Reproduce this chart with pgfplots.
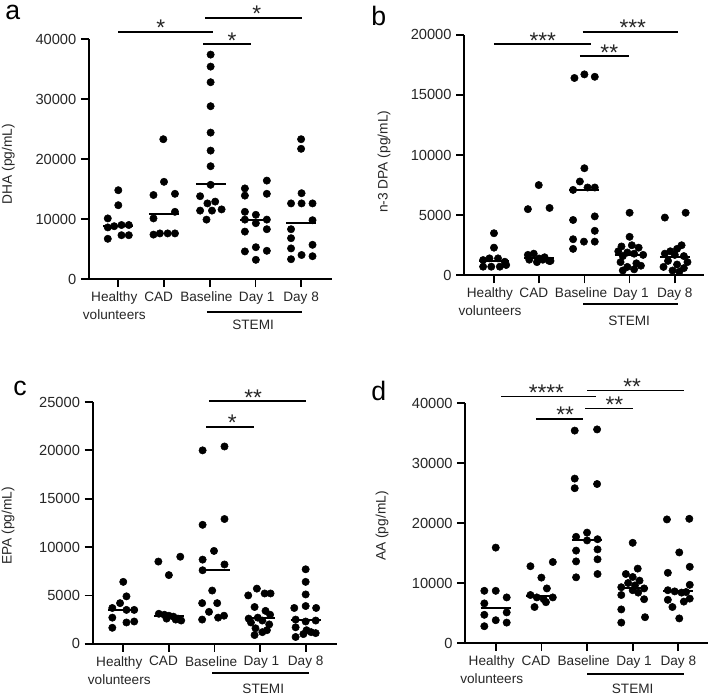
\documentclass[border=0pt]{standalone}
\usepackage{fontspec}
\setmainfont{Liberation Sans}
\usepackage{pgfplots}
\pgfplotsset{compat=1.18}

\definecolor{txt}{gray}{0.15}
\newcommand{\tickfont}{\fontsize{11}{13.5}\selectfont}
\newcommand{\catfont}{\fontsize{10.2}{13.5}\selectfont}
\newcommand{\starfont}{\fontsize{17}{17}\selectfont}

\pgfplotsset{
  panel/.style={
    scale only axis,
    anchor=south west,
    axis x line*=bottom, axis y line*=left,
    axis line style={line width=1.5pt, black},
    every tick/.style={line width=1.3pt, black},
    major tick length=6pt,
    tick align=outside,
    xtick={0,1,2,3,4},
    xticklabels={{\hspace*{-6pt}Healthy\\\hspace*{-6pt}volunteers},\hspace*{-8pt}CAD,\hspace*{-5pt}Baseline,\hspace*{2pt}Day 1,Day 8},
    xticklabel style={align=center, font=\catfont, text=txt, anchor=north},
    yticklabel style={font=\tickfont, text=txt},
    /pgf/number format/assume math mode=true,
    /pgf/number format/1000 sep={},
    scaled y ticks=false,
    ymin=0,
    clip=false,
  },
  dots/.style={only marks, mark=*, mark size=2.75pt, black, mark options={fill=black, draw=black}},
  med/.style={black, line width=1.5pt, no marks},
}

% significance bar: x1 x2 y starx stars
\newcommand{\sig}[5]{%
  \draw[line width=1.3pt] (axis cs:#1,#3) -- (axis cs:#2,#3);
  \node[anchor=base, inner sep=0pt, yshift=-2.8pt, font=\starfont, text=txt] at (axis cs:#4,#3) {#5};
}
% STEMI group: x1 x2 linedrop textx textdrop
\newcommand{\stemi}[5]{%
  \draw[line width=1.3pt] ([yshift=-#3]axis cs:#1,0) -- ([yshift=-#3]axis cs:#2,0);
  \node[inner sep=0pt, font=\catfont, text=txt] at ([yshift=-#5]axis cs:#4,0) {STEMI};
}
\newcommand{\med}[2]{\addplot[med] coordinates {(#1-0.33,#2) (#1+0.33,#2)};}

\begin{document}
\begin{tikzpicture}
\useasboundingbox (0,0) rectangle (534pt,-522pt);

% ---------------- panel a ----------------
\begin{axis}[panel, at={(66.75pt,-209.25pt)}, width=182.25pt, height=180pt,
  xmin=-0.641, xmax=4.676, ymax=40000, ytick={0,10000,20000,30000,40000}]
\addplot[dots] table {
-0.23 10100
-0.23 8600
-0.09 8800
0 14800
0 12300
0.07 9000
0.23 9000
0.07 7300
0.23 7300
-0.23 6700
0.985 23300
1.0 16200
0.77 14000
1.24 14200
0.77 10100
1.24 11200
0.77 7400
0.91 7600
1.08 7600
1.24 7600
2.02 37400
2.02 35400
2.02 32800
2.02 28800
2.02 24400
2.02 21400
2.02 18800
2.02 15700
1.79 13800
1.95 12600
2.12 12900
1.79 11400
2.05 11400
2.26 11600
1.93 9900
2.77 15100
3.25 16400
2.77 13900
3.25 14200
2.77 11200
2.77 9900
3.01 10700
3.25 9900
3.01 9300
2.77 7900
3.25 8300
2.77 4600
3.01 5300
3.25 4700
3.01 3200
4.0 23300
4.0 21700
4.01 14300
3.78 12600
4.01 12600
4.25 12600
4.25 9800
3.78 8300
3.78 6800
3.78 5100
4.25 5700
3.78 3300
4.01 4000
4.25 3800
};
\med{0}{8800}\med{1}{10800}\med{2.03}{15800}\med{3}{9900}\med{4}{9400}
\sig{0}{2.08}{41167}{0.93}{*}
\sig{1.90}{4.02}{43500}{3.03}{*}
\sig{1.86}{2.91}{39117}{2.49}{*}
\stemi{1.94}{4.02}{24.75pt}{2.95}{34.5pt}
\end{axis}

% ---------------- panel b ----------------
\begin{axis}[panel, at={(348.2pt,-206.5pt)}, width=179.8pt, height=180.5pt,
  xmin=-0.657, xmax=4.646, ymax=20000, ytick={0,5000,10000,15000,20000}]
\addplot[dots] table {
0 3500
0 2300
-0.24 1270
-0.1 1410
0.09 1410
0.24 1130
-0.24 720
-0.06 720
0.13 720
0.27 860
0.99 7500
0.75 5500
1.23 5600
0.75 1700
0.88 1800
1.0 1400
1.12 1500
1.25 1200
0.78 1300
0.95 1100
1.08 1300
1.22 1200
1.78 16400
2.0 16700
2.23 16500
2.0 8900
1.90 7800
1.75 7100
2.07 7300
2.23 7300
1.75 4600
2.23 4900
1.75 3000
1.99 2800
2.23 3700
2.23 2800
1.75 2200
3.0 5200
3.0 3200
2.82 2400
3.05 2500
3.2 2300
2.75 2000
2.95 1900
3.1 1800
3.3 1700
2.85 1600
2.8 1100
3.15 1000
3.25 800
2.95 700
2.85 400
3.1 500
3.78 4800
4.24 5200
4.15 2500
4.05 2200
3.9 2000
3.78 1800
4.0 1700
4.2 1600
3.85 1200
4.28 1100
4.05 900
3.75 700
4.2 600
3.95 400
4.1 300
};
\med{0}{1200}\med{1}{1400}\med{2}{7100}\med{3}{1700}\med{4}{1500}
\sig{0}{2.14}{19200}{1.08}{***}
\sig{1.96}{4.08}{20250}{3.07}{***}
\sig{1.90}{2.98}{18200}{2.55}{**}
\stemi{1.98}{4.08}{21.75pt}{2.99}{34pt}
\end{axis}

% ---------------- panel c ----------------
\begin{axis}[panel, at={(69.5pt,-482.8pt)}, width=183pt, height=181.3pt,
  xmin=-0.671, xmax=4.68, ymax=25000, ytick={0,5000,10000,15000,20000,25000}]
\addplot[dots] table {
0 6400
0.07 4900
-0.07 4200
-0.24 3700
-0.24 2700
-0.24 1650
0.07 3500
0.24 3500
0.07 2200
0.24 2300
0.77 8500
1.25 9000
1.0 7100
0.78 3100
0.9 3000
1.0 2900
1.1 2800
1.2 2600
1.27 2400
0.95 2600
1.15 2500
1.74 20000
2.22 20400
1.74 12300
2.22 12900
1.99 9600
1.74 8700
2.22 8200
1.74 7600
1.95 5500
1.73 4200
2.06 4200
1.88 3300
1.73 2500
2.08 2700
2.21 2900
2.74 5000
2.93 5700
3.1 5200
3.23 5200
2.88 3800
2.75 2600
3.12 3400
3.22 3000
2.95 2700
3.05 2400
2.8 2200
2.9 1600
3.15 1400
3.05 1200
2.88 900
3.2 2000
4.0 7700
4.0 6400
4.0 5100
4.0 3900
3.75 3700
4.23 3700
3.78 2500
4.22 2400
4.0 2300
3.78 1700
4.02 1400
4.22 1100
3.95 1000
3.78 700
4.12 1200
};
\med{0}{3500}\med{1}{2900}\med{2}{7600}\med{3}{2700}\med{4}{2500}
\sig{1.82}{2.87}{22400}{2.39}{*}
\sig{1.88}{4.0}{25070}{2.85}{**}
\stemi{1.95}{4.08}{22pt}{3.07}{33.75pt}
\end{axis}

% ---------------- panel d ----------------
\begin{axis}[panel, at={(349pt,-482.25pt)}, width=181.8pt, height=180pt,
  xmin=-0.666, xmax=4.644, ymax=40000, ytick={0,10000,20000,30000,40000}]
\addplot[dots] table {
0 15900
-0.25 8700
0 8700
0.24 7600
-0.25 6600
-0.25 4700
0 3800
0.24 5100
0.24 3400
-0.25 2800
0.76 12800
1.25 13500
1.0 10900
0.76 8000
1.12 9100
1.25 7600
0.9 7600
1.05 7300
1.1 6800
0.85 6000
1.73 35400
2.22 35600
1.73 27400
1.73 25800
2.22 26500
2.0 18400
1.76 17700
2.0 17100
2.23 17300
1.76 15400
2.23 15600
1.76 13600
2.23 13950
1.76 10950
2.23 11500
3.0 16700
3.11 12400
2.85 11500
3.0 11000
3.15 10400
2.9 10000
3.05 9600
2.75 9300
3.25 9100
3.0 8800
3.12 8400
2.75 8000
3.25 7300
2.75 5600
3.27 4300
2.75 3400
3.75 20600
4.24 20700
4.02 15100
3.77 11700
4.25 12700
4.25 9700
3.77 8800
3.92 8600
4.07 8400
3.77 7200
4.25 7400
4.12 6900
3.87 6000
4.02 4100
4.17 8500
};
\med{0}{5900}\med{1}{7800}\med{2}{17200}\med{3}{9200}\med{4}{8600}
\sig{0.12}{2.19}{41100}{1.11}{****}
\sig{2.0}{4.13}{42100}{2.99}{**}
\sig{0.88}{1.92}{37300}{1.52}{**}
\sig{1.96}{3.0}{39100}{2.6}{**}
\stemi{2.0}{4.13}{23pt}{3.0}{34.3pt}
\end{axis}

% panel letters
\node[anchor=base west, inner sep=0pt, font=\fontsize{20}{20}\selectfont] at (3.75pt,-14.25pt) {a};
\node[anchor=base west, inner sep=0pt, font=\fontsize{20}{20}\selectfont] at (278.25pt,-18.75pt) {b};
\node[anchor=base west, inner sep=0pt, font=\fontsize{20}{20}\selectfont] at (9.75pt,-296.25pt) {c};
\node[anchor=base west, inner sep=0pt, font=\fontsize{20}{20}\selectfont] at (278.25pt,-300pt) {d};

% y labels
\node[rotate=90, inner sep=0pt, font=\fontsize{10.3}{12}\selectfont, text=txt] at (6.2pt,-123pt) {DHA (pg/mL)};
\node[rotate=90, inner sep=0pt, font=\fontsize{10.3}{12}\selectfont, text=txt] at (288pt,-121.3pt) {n-3 DPA (pg/mL)};
\node[rotate=90, inner sep=0pt, font=\fontsize{10.3}{12}\selectfont, text=txt] at (6pt,-394.5pt) {EPA (pg/mL)};
\node[rotate=90, inner sep=0pt, font=\fontsize{10.3}{12}\selectfont, text=txt] at (286.5pt,-394.5pt) {AA (pg/mL)};
\end{tikzpicture}
\end{document}
